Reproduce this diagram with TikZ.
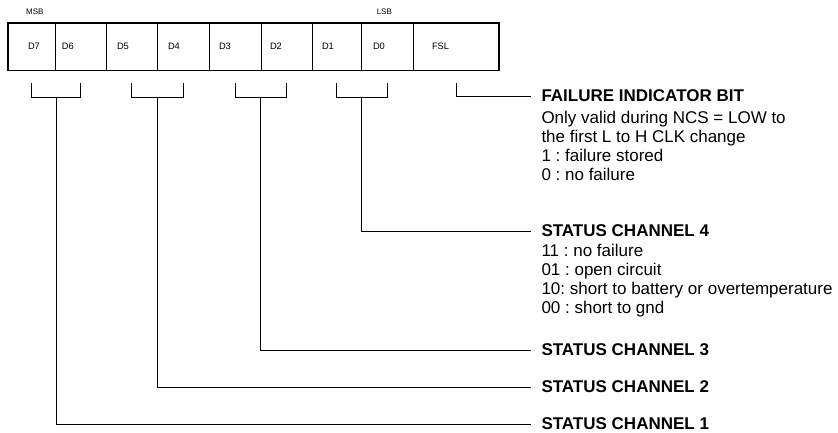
\documentclass[tikz,border=0pt]{standalone}
\usepackage{fontspec}
\setmainfont{Liberation Sans}
\frenchspacing
\usetikzlibrary{positioning, calc}

\begin{document}
\begin{tikzpicture}[x=0.75pt, y=-0.75pt, line width=0.75pt,
		cell/.style={draw, rectangle, line width=0.6pt, inner sep=0pt, minimum height=35.25pt, align=left, font=\fontsize{7}{8}\selectfont},
		tag/.style={inner sep=0pt, font=\fontsize{6}{7}\selectfont},
		chtitle/.style={anchor=west, inner xsep=7.5pt, inner ysep=0pt, font=\fontsize{12.75}{14.4}\selectfont\bfseries},
		chtext/.style={anchor=north west, inner xsep=7.5pt, inner ysep=0pt, align=left, font=\fontsize{12.75}{14.4}\selectfont}]
				\useasboundingbox (0,0) rectangle (838,432);
				\foreach \l/\r/\o/\t/\n in {8/55/20/D7/d7, 55/106/7/D6/d6, 106/157/11/D5/d5, 157/209/11/D4/d4, 209/261/10/D3/d3, 261/312/9/D2/d2, 312/361/10/D1/d1, 361/413/12/D0/d0, 413/499/19/FSL/fsl}{
					\pgfmathsetmacro\cw{(\r-\l)*0.75}
					\pgfmathsetmacro\ow{\o*0.75}
					\node[cell, minimum width=\cw pt, text width=\cw pt] (\n) at ({(\l+\r)/2},46.5) {\hspace*{\ow pt}\t};
				}
				\draw [line width=1pt] (d7.north west) rectangle (fsl.south east);
				\draw [line width=1.5pt] (fsl.north east) -- (fsl.south east);
				\node [tag, above=6pt of d7, xshift=2.5pt] (msb) {MSB};
				\node [tag, above=6pt of d0, xshift=-2pt] (lsb) {LSB};
				
				\foreach \a/\b/\k in {d7/d6/1, d5/d4/2, d3/d2/3, d1/d0/4}{
					\draw ($(\a.south)+(0,13)$) -- ($(\a.south)+(0,27)$) -- ($(\b.south)+(0,27)$) -- ($(\b.south)+(0,13)$);
					\coordinate (br\k) at ($(\a.south)!0.5!(\b.south)+(0,27)$);
				}
				
				\node [chtitle] (fib) at (531,96) {FAILURE INDICATOR BIT};
				\node [chtext] (fibtxt) at ($(fib.south west)+(0,8)$) {Only valid during NCS = LOW to\\the first L to H CLK change\\1 : failure stored\\0 : no failure};
				\node [chtitle] (ch4) at (531,231) {STATUS CHANNEL 4};
				\node [chtext] (ch4txt) at ($(ch4.south west)+(0,6)$) {11 : no failure\\01 : open circuit\\10: short to battery or overtemperature\\00 : short to gnd};
				\node [chtitle] (ch3) at (531,350) {STATUS CHANNEL 3};
				\node [chtitle] (ch2) at (531,387) {STATUS CHANNEL 2};
				\node [chtitle] (ch1) at (531,424) {STATUS CHANNEL 1};
				
				\draw ($(fsl.south)+(0,13)$) |- (fib);
				\draw (br4) |- (ch4);
				\draw (br3) |- (ch3);
				\draw (br2) |- (ch2);
				\draw (br1) |- (ch1);
\end{tikzpicture}
\end{document}
